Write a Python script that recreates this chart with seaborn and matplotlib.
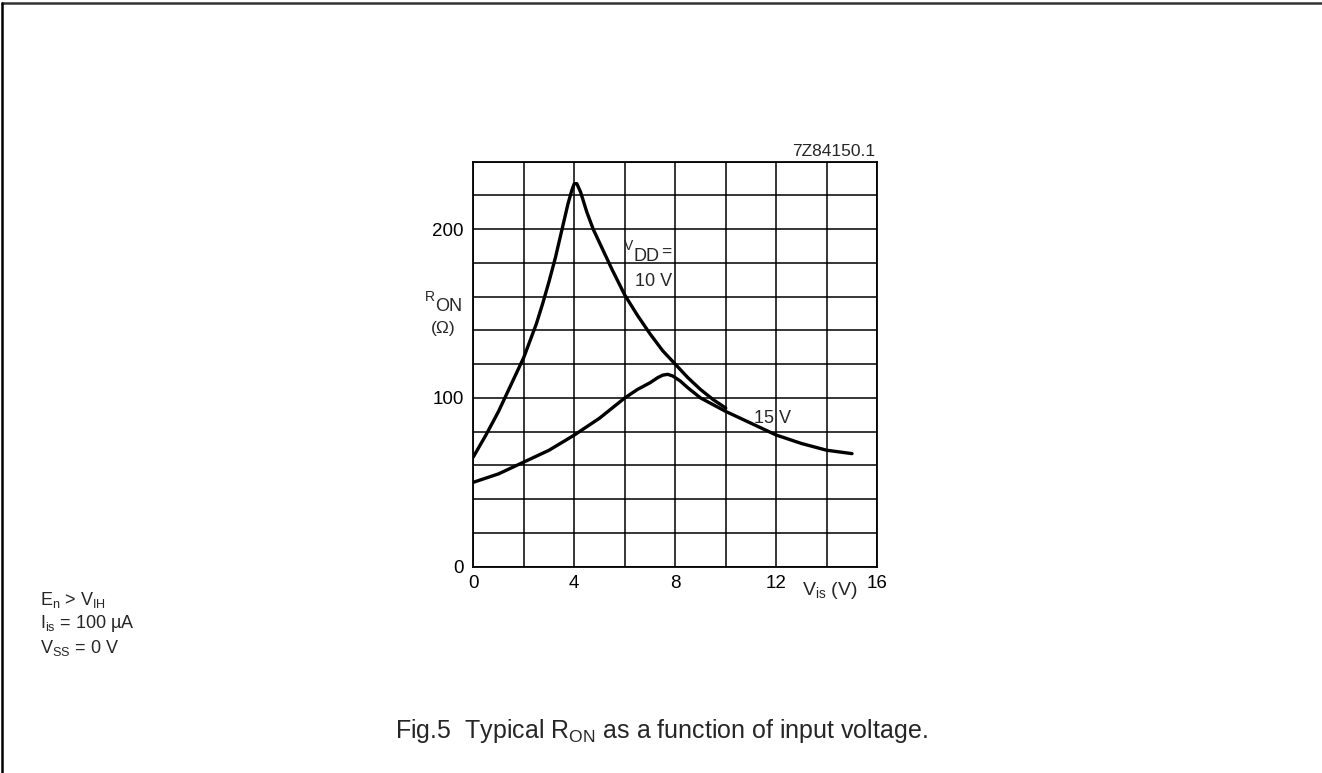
import numpy as np
import pandas as pd
import matplotlib
matplotlib.use("Agg")
import matplotlib.pyplot as plt
from matplotlib.lines import Line2D
import seaborn as sns

# ---- data ----
vis_10 = [0, 0.5, 1, 1.5, 2, 2.5, 2.75, 3, 3.25, 3.5, 3.75, 3.9, 4.0, 4.1, 4.25, 4.5, 4.75,
          5, 5.5, 6, 6.5, 7, 7.5, 8, 8.5, 9, 9.5, 10]
ron_10 = [65, 78, 92, 108, 124, 144, 156, 169, 183, 199, 215, 223, 227, 227, 222, 210, 200,
          192, 176, 161, 149, 138, 128, 120, 112, 105, 99, 94]
vis_15 = [0, 1, 2, 3, 4, 5, 6, 6.5, 7, 7.3, 7.5, 7.7, 7.9, 8.2, 8.5, 9, 9.5, 10, 11, 12, 13, 14, 15]
ron_15 = [50, 55, 62, 69, 78, 88, 100, 105, 109, 112, 113.5, 114, 113, 110, 106, 100, 96, 92, 85, 78, 73, 69, 67]

x_ticks = [0, 2, 4, 6, 8, 10, 12, 14, 16]
x_tick_labels = ["0", "", "4", "", "8", "", "12", "", "16"]
y_ticks = list(range(0, 241, 20))
y_tick_labels = ["0", "", "", "", "", "100", "", "", "", "", "200", "", ""]

df = pd.concat([
    pd.DataFrame({"Vis": vis_10, "Ron": ron_10, "VDD": "10 V"}),
    pd.DataFrame({"Vis": vis_15, "Ron": ron_15, "VDD": "15 V"}),
], ignore_index=True)

sns.set_style("white")
plt.rcParams["font.family"] = ["Liberation Sans", "DejaVu Sans"]
plt.rcParams["mathtext.fontset"] = "custom"
plt.rcParams["mathtext.rm"] = "Liberation Sans"
plt.rcParams["mathtext.it"] = "Liberation Sans:italic"
plt.rcParams["mathtext.bf"] = "Liberation Sans:bold"

fig = plt.figure(figsize=(13.22, 7.73), dpi=100)
fig.patch.set_facecolor("white")
ax = fig.add_axes([0.358, 0.2669, 0.3056, 0.5239])

sns.lineplot(data=df, x="Vis", y="Ron", hue="VDD", palette=["black", "black"],
             estimator=None, sort=False, legend=False, linewidth=2.4, ax=ax)

ax.set_xlim(0, 16)
ax.set_ylim(0, 240)
ax.set_xticks(x_ticks)
ax.set_xticklabels(x_tick_labels)
ax.set_yticks(y_ticks)
ax.set_yticklabels(y_tick_labels)
ax.grid(True, color="black", linewidth=1.1)
ax.set_axisbelow(True)
ax.tick_params(axis="both", length=0, labelsize=13.5, colors="black")
ax.tick_params(axis="x", pad=6)
ax.tick_params(axis="y", pad=7)
for s in ax.spines.values():
    s.set_visible(True)
    s.set_color("black")
    s.set_linewidth(1.3)
ax.set_xlabel("")
ax.set_ylabel("")

# y axis label (small R, large ON)
ax.text(-0.108, 0.665, "R", transform=ax.transAxes, ha="center", va="center", fontsize=10)
ax.text(-0.062, 0.642, "ON", transform=ax.transAxes, ha="center", va="center", fontsize=13)
ax.text(-0.075, 0.589, "(Ω)", transform=ax.transAxes, ha="center", va="center", fontsize=12.5)
# x axis label
ax.text(0.882, -0.060, r"$\mathregular{V_{is}}$ (V)", transform=ax.transAxes,
        ha="center", va="center", fontsize=14)

# curve annotations
ax.text(6.15, 190.0, "V", ha="center", va="center", fontsize=10)
ax.text(6.85, 184.0, "DD", ha="center", va="center", fontsize=13)
ax.text(7.66, 186.5, "=", ha="center", va="center", fontsize=12.5)
ax.text(7.14, 169.0, "10 V", ha="center", va="center", fontsize=13)
ax.text(11.87, 88, "15 V", ha="center", va="center", fontsize=13)
ax.text(0.995, 1.025, "7Z84150.1", transform=ax.transAxes, ha="right", va="center",
        fontsize=12.5)

# side notes
fig.text(40 / 1322, 1 - 600 / 773, r"$\mathregular{E_n}$ > $\mathregular{V_{IH}}$",
         ha="left", va="center", fontsize=13)
fig.text(40 / 1322, 1 - 623 / 773, r"$\mathregular{I_{is}}$ = 100 µA",
         ha="left", va="center", fontsize=13)
fig.text(40 / 1322, 1 - 648 / 773, r"$\mathregular{V_{SS}}$ = 0 V",
         ha="left", va="center", fontsize=13)

# caption
fig.text(0.5, 1 - 731 / 773, r"Fig.5  Typical $\mathregular{R_{ON}}$ as a function of input voltage.",
         ha="center", va="center", fontsize=18)

# page frame (top and left edges)
fig.add_artist(Line2D([2 / 1322, 1.0], [1 - 3 / 773, 1 - 3 / 773], transform=fig.transFigure,
                      color="#333333", linewidth=1.8))
fig.add_artist(Line2D([2 / 1322, 2 / 1322], [0.0, 1 - 3 / 773], transform=fig.transFigure,
                      color="black", linewidth=1.8))

fig.savefig("out.png", dpi=100, facecolor="white")
